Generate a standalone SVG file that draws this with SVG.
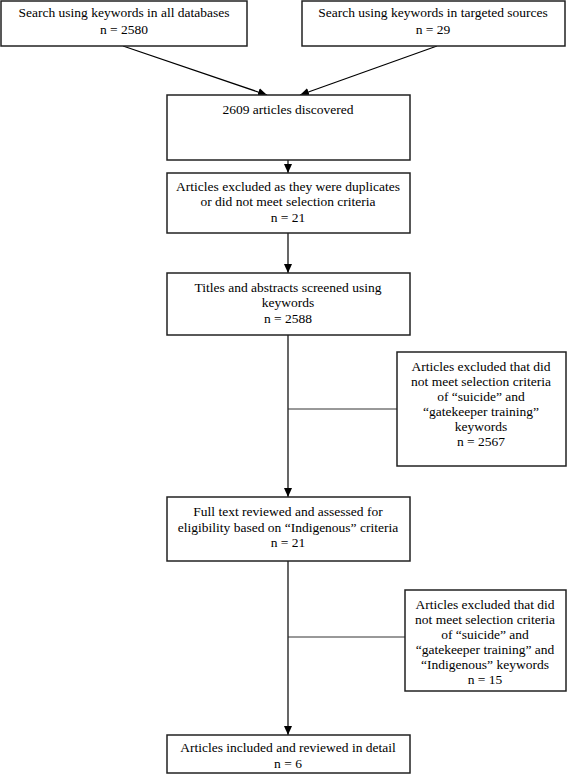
<svg xmlns="http://www.w3.org/2000/svg" width="568" height="774" viewBox="0 0 568 774">
<style>
.box{fill:#fff;stroke:#222;stroke-width:1.5}
.t{font-family:"Liberation Serif","Times New Roman",serif;font-size:13.5px;fill:#000;text-anchor:middle}
.c{stroke:#000;stroke-width:1.2;fill:none}
.b{stroke:#333;stroke-width:1;fill:none}
</style>
<defs>
<marker id="ah" markerWidth="10" markerHeight="10" refX="9" refY="5" orient="auto" markerUnits="userSpaceOnUse">
<path d="M0,1 L9,5 L0,9 z" fill="#000"/>
</marker>
</defs>
<rect width="568" height="774" fill="#fff"/>
<g id="connectors">
<line class="c" x1="123" y1="46" x2="267" y2="95" marker-end="url(#ah)"/>
<line class="c" x1="437" y1="46" x2="300" y2="95" marker-end="url(#ah)"/>
<line class="c" x1="288" y1="160" x2="288" y2="173" marker-end="url(#ah)"/>
<line class="c" x1="288" y1="233" x2="288" y2="273" marker-end="url(#ah)"/>
<line class="c" x1="288" y1="335" x2="288" y2="497" marker-end="url(#ah)"/>
<line class="b" x1="288" y1="409" x2="397" y2="409"/>
<line class="c" x1="288" y1="561" x2="288" y2="735" marker-end="url(#ah)"/>
<line class="b" x1="288" y1="637" x2="405" y2="637"/>
</g>
<g id="n1">
<rect class="box" x="1" y="1" width="246" height="45"/>
<text class="t" x="124" y="17">Search using keywords in all databases</text>
<text class="t" x="124" y="34">n = 2580</text>
</g>
<g id="n2">
<rect class="box" x="302" y="1" width="263" height="45"/>
<text class="t" x="433" y="17">Search using keywords in targeted sources</text>
<text class="t" x="433" y="34">n = 29</text>
</g>
<g id="n3">
<rect class="box" x="167" y="95" width="243" height="65"/>
<text class="t" x="288" y="114">2609 articles discovered</text>
</g>
<g id="n4">
<rect class="box" x="167" y="173" width="243" height="60"/>
<text class="t" x="288" y="191">Articles excluded as they were duplicates</text>
<text class="t" x="288" y="206">or did not meet selection criteria</text>
<text class="t" x="288" y="222">n = 21</text>
</g>
<g id="n5">
<rect class="box" x="167" y="273" width="243" height="62"/>
<text class="t" x="288" y="292">Titles and abstracts screened using</text>
<text class="t" x="288" y="307">keywords</text>
<text class="t" x="288" y="323">n = 2588</text>
</g>
<g id="n6">
<rect class="box" x="397" y="352" width="169" height="114"/>
<text class="t" x="481" y="371">Articles excluded that did</text>
<text class="t" x="481" y="386">not meet selection criteria</text>
<text class="t" x="481" y="401">of “suicide” and</text>
<text class="t" x="481" y="416">“gatekeeper training”</text>
<text class="t" x="481" y="431">keywords</text>
<text class="t" x="481" y="446">n = 2567</text>
</g>
<g id="n7">
<rect class="box" x="167" y="497" width="243" height="64"/>
<text class="t" x="288" y="516">Full text reviewed and assessed for</text>
<text class="t" x="288" y="532">eligibility based on “Indigenous” criteria</text>
<text class="t" x="288" y="547">n = 21</text>
</g>
<g id="n8">
<rect class="box" x="405" y="590" width="161" height="101"/>
<text class="t" x="485" y="609">Articles excluded that did</text>
<text class="t" x="485" y="624">not meet selection criteria</text>
<text class="t" x="485" y="639">of “suicide” and</text>
<text class="t" x="485" y="654">“gatekeeper training” and</text>
<text class="t" x="485" y="669">“Indigenous” keywords</text>
<text class="t" x="485" y="684">n = 15</text>
</g>
<g id="n9">
<rect class="box" x="167" y="735" width="243" height="38"/>
<text class="t" x="288" y="752">Articles included and reviewed in detail</text>
<text class="t" x="288" y="768">n = 6</text>
</g>
</svg>
